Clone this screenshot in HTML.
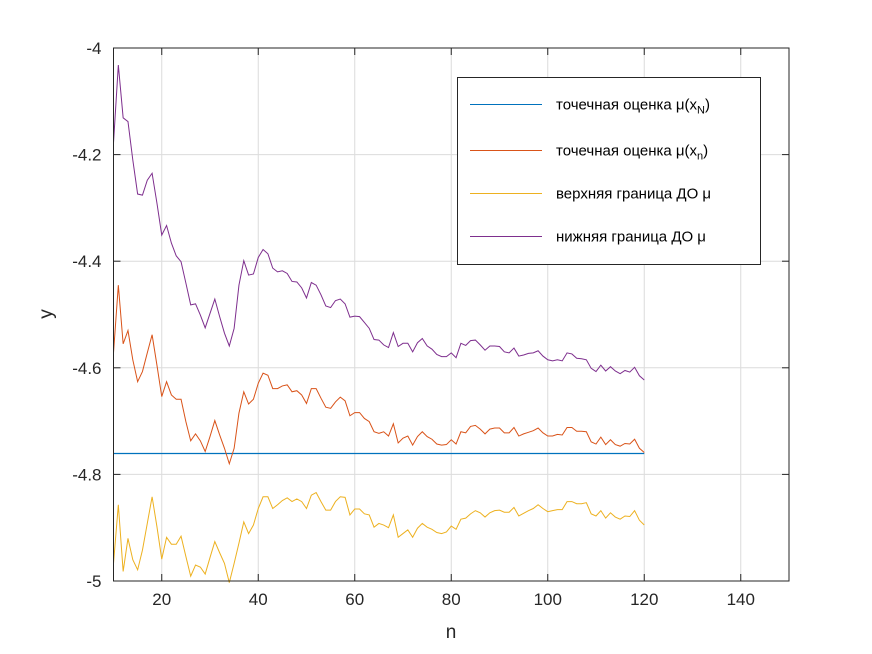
<!DOCTYPE html>
<html><head><meta charset="utf-8">
<style>
html,body{margin:0;padding:0;background:#fff;}
svg{display:block;font-family:"Liberation Sans",sans-serif;}
</style></head>
<body>
<svg id="chart" width="872" height="654" viewBox="0 0 872 654" xmlns="http://www.w3.org/2000/svg"></svg>
<script>
const purpleVals=[-4.178,-4.032,-4.131,-4.138,-4.21,-4.274,-4.276,-4.248,-4.235,-4.291,-4.351,-4.333,-4.366,-4.39,-4.401,-4.441,-4.482,-4.48,-4.501,-4.525,-4.498,-4.471,-4.504,-4.535,-4.559,-4.526,-4.445,-4.399,-4.426,-4.424,-4.393,-4.378,-4.386,-4.413,-4.42,-4.418,-4.423,-4.438,-4.439,-4.45,-4.469,-4.44,-4.445,-4.463,-4.484,-4.487,-4.474,-4.471,-4.48,-4.505,-4.503,-4.504,-4.515,-4.526,-4.547,-4.548,-4.557,-4.562,-4.534,-4.56,-4.554,-4.554,-4.57,-4.553,-4.545,-4.559,-4.565,-4.575,-4.579,-4.579,-4.572,-4.581,-4.554,-4.558,-4.549,-4.548,-4.557,-4.567,-4.559,-4.559,-4.56,-4.57,-4.572,-4.563,-4.578,-4.576,-4.573,-4.572,-4.568,-4.578,-4.585,-4.587,-4.585,-4.587,-4.572,-4.574,-4.582,-4.583,-4.585,-4.601,-4.607,-4.595,-4.606,-4.598,-4.606,-4.611,-4.605,-4.608,-4.599,-4.615,-4.623];
const orangeVals=[-4.572,-4.445,-4.555,-4.53,-4.585,-4.626,-4.607,-4.572,-4.538,-4.595,-4.654,-4.626,-4.651,-4.659,-4.659,-4.701,-4.737,-4.724,-4.737,-4.757,-4.729,-4.699,-4.726,-4.751,-4.78,-4.751,-4.685,-4.645,-4.668,-4.659,-4.629,-4.61,-4.614,-4.639,-4.639,-4.634,-4.632,-4.645,-4.643,-4.651,-4.667,-4.639,-4.639,-4.657,-4.674,-4.676,-4.664,-4.655,-4.662,-4.69,-4.684,-4.684,-4.695,-4.701,-4.72,-4.723,-4.72,-4.728,-4.705,-4.741,-4.732,-4.728,-4.745,-4.729,-4.72,-4.729,-4.734,-4.743,-4.745,-4.744,-4.735,-4.743,-4.72,-4.722,-4.71,-4.708,-4.715,-4.724,-4.715,-4.713,-4.713,-4.722,-4.722,-4.712,-4.728,-4.724,-4.721,-4.718,-4.713,-4.722,-4.728,-4.728,-4.725,-4.726,-4.712,-4.712,-4.719,-4.719,-4.72,-4.739,-4.743,-4.73,-4.744,-4.735,-4.744,-4.747,-4.742,-4.743,-4.734,-4.751,-4.759];
const yellowVals=[-4.967,-4.857,-4.982,-4.92,-4.96,-4.979,-4.942,-4.892,-4.842,-4.898,-4.959,-4.918,-4.931,-4.931,-4.916,-4.954,-4.991,-4.97,-4.974,-4.987,-4.956,-4.926,-4.947,-4.967,-5.003,-4.967,-4.929,-4.889,-4.911,-4.895,-4.864,-4.842,-4.842,-4.864,-4.857,-4.849,-4.844,-4.851,-4.846,-4.851,-4.864,-4.839,-4.834,-4.851,-4.867,-4.867,-4.851,-4.842,-4.843,-4.876,-4.865,-4.865,-4.874,-4.876,-4.899,-4.892,-4.895,-4.9,-4.876,-4.918,-4.911,-4.904,-4.918,-4.901,-4.892,-4.899,-4.903,-4.909,-4.911,-4.908,-4.897,-4.903,-4.884,-4.882,-4.874,-4.868,-4.872,-4.88,-4.872,-4.868,-4.867,-4.871,-4.871,-4.862,-4.878,-4.873,-4.868,-4.864,-4.857,-4.864,-4.87,-4.868,-4.866,-4.866,-4.851,-4.851,-4.855,-4.855,-4.853,-4.874,-4.878,-4.868,-4.882,-4.872,-4.88,-4.884,-4.878,-4.879,-4.868,-4.886,-4.895];
const pointEstimateN=-4.759;
const nStart=10, nEnd=120;
const xTicks=[20,40,60,80,100,120,140];
const yTicks=[-4,-4.2,-4.4,-4.6,-4.8,-5];
const yTickLabels=["-4","-4.2","-4.4","-4.6","-4.8","-5"];

const L=113.5,R=789,T=48,B=581;
const xMin=10,xMax=150,yMin=-5,yMax=-4;
const sx=v=>L+(v-xMin)/(xMax-xMin)*(R-L);
const sy=v=>B-(v-yMin)/(yMax-yMin)*(B-T);
const svg=document.getElementById('chart');
const NS='http://www.w3.org/2000/svg';
function mk(tag,attrs,parent){const e=document.createElementNS(NS,tag);for(const k in attrs)e.setAttribute(k,attrs[k]);(parent||svg).appendChild(e);return e;}

const bg=mk('rect',{x:L,y:T,width:R-L,height:B-T,fill:'#fff'});



const grid=mk('g',{stroke:'#dcdcdc','stroke-width':1});


xTicks.forEach(t=>mk('line',{x1:sx(t),x2:sx(t),y1:T,y2:B},grid));
yTicks.forEach(t=>mk('line',{x1:L,x2:R,y1:sy(t),y2:sy(t)},grid));

function series(vals,color,name){
  let d='';
  vals.forEach((v,i)=>{d+=(i?'L':'M')+sx(nStart+i).toFixed(2)+','+sy(v).toFixed(2);});
  const p=mk('path',{d:d,fill:'none',stroke:color,'stroke-width':1});
  
  
}
const by=Math.round(sy(pointEstimateN))+0.5;
const blue=mk('path',{d:'M'+sx(nStart)+','+by+'L'+sx(nEnd)+','+by,fill:'none',stroke:'#0072bd','stroke-width':1.3});


series(orangeVals,'#d95319','point-estimate-n-line');
series(yellowVals,'#edb120','upper-bound-line');
series(purpleVals,'#7e2f8e','lower-bound-line');

const axes=mk('g',{stroke:'#262626','stroke-width':1,fill:'none'});


mk('rect',{x:L,y:T,width:R-L,height:B-T},axes);
xTicks.forEach(t=>{mk('line',{x1:sx(t),x2:sx(t),y1:B,y2:B-7},axes);mk('line',{x1:sx(t),x2:sx(t),y1:T,y2:T+7},axes);});
yTicks.forEach(t=>{mk('line',{x1:L,x2:L+7,y1:sy(t),y2:sy(t)},axes);mk('line',{x1:R,x2:R-7,y1:sy(t),y2:sy(t)},axes);});

xTicks.forEach(t=>{const e=mk('text',{x:sx(t),y:B+24,'text-anchor':'middle','font-size':17,fill:'#262626'});e.textContent=t;

});
yTicks.forEach((t,i)=>{const e=mk('text',{x:L-12,y:sy(t)+6,'text-anchor':'end','font-size':17,fill:'#262626'});e.textContent=yTickLabels[i];

});
const xt=mk('text',{x:451,y:638,'text-anchor':'middle','font-size':19,fill:'#262626'});xt.textContent='n';


const yt=mk('text',{x:0,y:0,'text-anchor':'middle','font-size':19,fill:'#262626',transform:'translate(52,314) rotate(-90)'});yt.textContent='y';



const lg=mk('g',{});


mk('rect',{x:457.5,y:77.5,width:303,height:187,fill:'#fff',stroke:'#262626','stroke-width':1},lg);
const entries=[['#0072bd','точечная оценка μ(x','N',')'],['#d95319','точечная оценка μ(x','n',')'],['#edb120','верхняя граница ДО μ','',''],['#7e2f8e','нижняя граница ДО μ','','']];
const ey=[104.5,150.5,193.5,236.5];
entries.forEach((en,i)=>{
  const g=mk('g',{},lg);
  
  
  mk('line',{x1:470,x2:542,y1:ey[i],y2:ey[i],stroke:en[0],'stroke-width':1},g);
  const t=mk('text',{x:556,y:ey[i]+5,'font-size':15,fill:'#000'},g);
  t.appendChild(document.createTextNode(en[1]));
  if(en[2]){const s=mk('tspan',{'font-size':11,dy:4},t);s.textContent=en[2];const s2=mk('tspan',{dy:-4},t);s2.textContent=en[3];}
});
</script>
</body></html>
